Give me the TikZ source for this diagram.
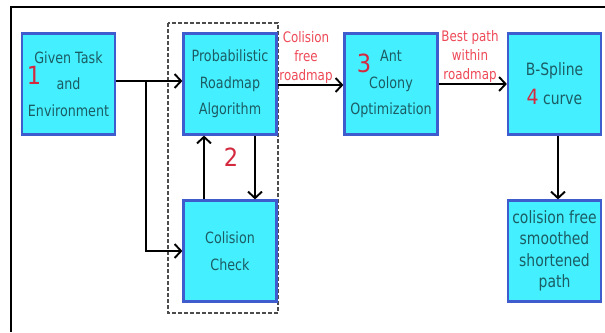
\documentclass[tikz,border=0pt]{standalone}
\usepackage{fontspec}
\setmainfont{DejaVu Sans}[FakeStretch=0.82]
\newfontfamily\numfont{DejaVu Sans}[FakeStretch=0.9]
\usetikzlibrary{arrows.meta}
\definecolor{boxfill}{HTML}{44F0FF}
\definecolor{boxline}{HTML}{3F5CCF}
\definecolor{boxtext}{HTML}{1C5C64}
\definecolor{lblred}{HTML}{EE4A58}
\definecolor{numred}{HTML}{D42A40}
\begin{document}
\begin{tikzpicture}[x=1pt,y=-1pt,
  blk/.style={draw=boxline, line width=2.2pt, fill=boxfill, text=boxtext,
    minimum width=93pt, minimum height=101pt, inner sep=0pt, align=center,
    font=\fontsize{15.5}{26.5}\selectfont},
  bigblk/.style={blk, font=\fontsize{17}{21.5}\selectfont},
  arr/.style={line width=1.9pt, -{Straight Barb[length=6.5pt,width=14pt,line width=1.9pt]}},
  lbl/.style={text=lblred, align=center, inner sep=0pt, font=\fontsize{14.5}{19}\selectfont},
  num/.style={text=numred, inner sep=0pt, font=\numfont\fontsize{25}{25}\selectfont}]
\useasboundingbox (0,0) rectangle (605,332);
\fill[white] (0,0) rectangle (605,332);
% outer frame
\draw[line width=1.2pt] (11,332) -- (11,7) -- (605,7);
% dashed group
\draw[dashed, dash pattern=on 4pt off 2pt, line width=1.4pt, black!70] (168,23) rectangle (278,313);
% blocks
\node[blk] (given) at (68.5,84) {Given Task\\and\\Environment};
\node[blk] (prm) at (230,84) {Probabilistic\\Roadmap\\Algorithm};
\node[blk] (cc) at (230,251) {Colision\\Check};
\node[blk] (aco) at (391,84) {Ant\\Colony\\Optimization};
\node[bigblk, font=\fontsize{17}{29}\selectfont] (bs) at (554.5,84) {B-Spline\\{\color{numred}\numfont\fontsize{21}{21}\selectfont 4} curve};
\node[bigblk] (fin) at (554.5,251) {colision free\\smoothed\\shortened\\path};
% numbers
\node[num] (n1) at (34,75) {1};
\node[num] (n2) at (231,157) {2};
\node[num] (n3) at (364,63) {3};
% connectors
\draw[arr] ([yshift=3pt]given.east) -- ([yshift=3pt]prm.west);
\coordinate (br) at (146,81);
\draw[arr] (br) |- (cc.west);
\draw[arr] ([xshift=-26pt]cc.north) -- ([xshift=-26pt]prm.south);
\draw[arr] ([xshift=25pt]prm.south) -- ([xshift=25pt]cc.north);
\draw[arr] ([yshift=-1pt]prm.east) -- ([yshift=-1pt]aco.west);
\draw[arr] (aco.east) -- (bs.west);
\draw[arr] ([xshift=3.5pt]bs.south) -- ([xshift=3.5pt]fin.north);
% labels
\node[lbl] (l1) at (306,57) {Colision\\free\\roadmap};
\node[lbl] (l2) at (470,56) {Best path\\within\\roadmap};
\end{tikzpicture}
\end{document}
